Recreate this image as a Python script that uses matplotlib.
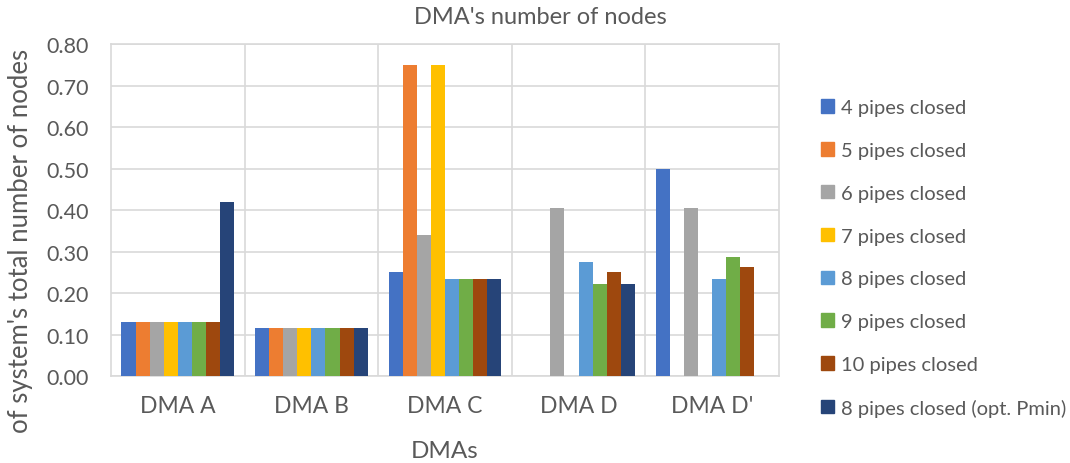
import numpy as np
import matplotlib
matplotlib.use('Agg')
import matplotlib.pyplot as plt
from matplotlib.patches import Patch

plt.rcParams['font.family'] = ['Lato', 'DejaVu Sans']

dmas = ['DMA A', 'DMA B', 'DMA C', 'DMA D', "DMA D'"]
series_names = ['4 pipes closed', '5 pipes closed', '6 pipes closed', '7 pipes closed',
                '8 pipes closed', '9 pipes closed', '10 pipes closed',
                '8 pipes closed (opt. Pmin)']
# one list per series, one value per DMA (nan = no bar)
nan = np.nan
p4 = [0.13, 0.117, 0.25, nan, 0.50]
p5 = [0.13, 0.117, 0.75, nan, nan]
p6 = [0.13, 0.117, 0.34, 0.406, 0.406]
p7 = [0.13, 0.117, 0.75, nan, nan]
p8 = [0.13, 0.117, 0.235, 0.275, 0.235]
p9 = [0.13, 0.117, 0.235, 0.222, 0.288]
p10 = [0.13, 0.117, 0.235, 0.25, 0.262]
p8_opt = [0.42, 0.117, 0.235, 0.222, nan]
all_series = [p4, p5, p6, p7, p8, p9, p10, p8_opt]

colors = ['#4472C4', '#ED7D31', '#A5A5A5', '#FFC000', '#5B9BD5', '#70AD47', '#9E480E', '#264478']
txt = '#595959'
grid_c = '#D9D9D9'

fig = plt.figure(figsize=(10.7, 4.64), dpi=100)
ax = fig.add_axes([0.1037, 0.1875, 0.6243, 0.7145])

n = len(all_series)
group_w = 0.843
bw = group_w / n
x = np.arange(len(dmas))
for i, vals in enumerate(all_series):
    offs = -group_w / 2 + bw * (i + 0.5)
    ax.bar(x + offs, vals, width=bw, color=colors[i], zorder=3, linewidth=0)

ax.set_xlim(-0.5, len(dmas) - 0.5)
ax.set_ylim(0, 0.8)
yt = np.arange(0, 0.81, 0.1)
ax.set_yticks(yt)
ax.set_yticklabels(['%.2f' % v for v in yt])
ax.set_xticks(x)
ax.set_xticklabels(dmas)
ax.tick_params(length=0, colors=txt)
ax.tick_params(axis='x', pad=14, labelsize=16.5)
ax.tick_params(axis='y', pad=16, labelsize=15.5)
ax.yaxis.grid(True, color=grid_c, linewidth=1.2, zorder=0)
for b in np.arange(0.5, len(dmas) - 0.5):
    ax.axvline(b, color=grid_c, linewidth=1.2, zorder=0)
for s in ax.spines.values():
    s.set_color(grid_c)
    s.set_linewidth(1.2)

fig.text(0.505, 1 - 18 / 464, "DMA's number of nodes", color=txt, fontsize=17,
         ha='center', va='center')
ax.set_xlabel('DMAs', color=txt, fontsize=17.5)
ax.xaxis.set_label_coords(0.5, -0.193)
ax.set_ylabel("of system's total number of nodes", color=txt, fontsize=18.5)
ax.yaxis.set_label_coords(-0.117, 0.41)

handles = [Patch(color=c) for c in colors]
fig.legend(handles, series_names, loc='upper left', bbox_to_anchor=(0.75, 0.823),
           frameon=False, fontsize=14.5, labelcolor=txt, handlelength=0.65,
           handleheight=0.65, handletextpad=0.35, labelspacing=1.28)

fig.savefig('out.png', dpi=100)
